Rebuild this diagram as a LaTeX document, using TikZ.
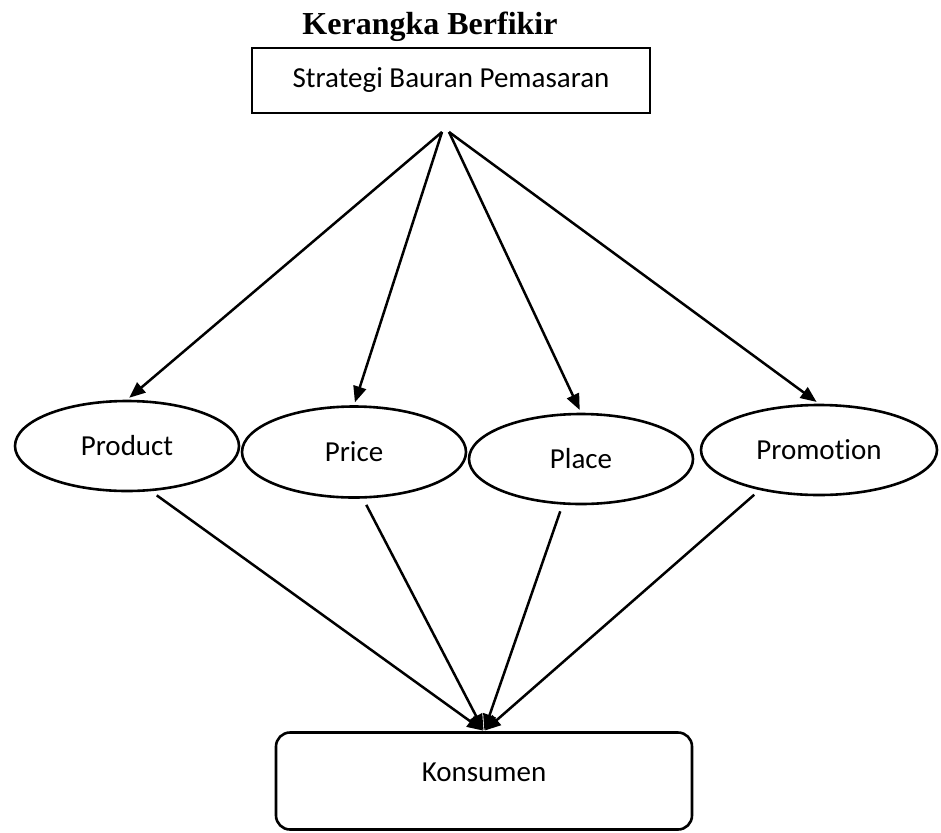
\documentclass[tikz,border=0pt]{standalone}
\usepackage{fontspec}
\setmainfont[Ligatures=NoCommon]{Carlito}
\newfontfamily\titlefont{Liberation Serif}
\usetikzlibrary{positioning, arrows.meta, shapes.geometric}

\begin{document}
\begin{tikzpicture}[
    x=1pt, y=-1pt,
    arrow/.style={-{Triangle[length=16pt, width=13pt]}, line width=2.5pt},
    oval/.style={ellipse, draw, line width=2.6pt, minimum width=224pt, minimum height=90pt, inner sep=0pt, font=\fontsize{29}{34}\selectfont},
    box/.style={draw, line width=2.6pt, font=\fontsize{29}{34}\selectfont}
]
    \useasboundingbox (0,0) rectangle (941,832);

    % Title
    \node[font=\titlefont\bfseries\fontsize{32}{38}\selectfont, anchor=base] (title) at (430,35) {Kerangka Berfikir};

    % Top box
    \node[box, minimum width=398pt, minimum height=65pt] (strat) at (451,80.5) {Strategi Bauran Pemasaran};

    % Marketing mix
    \node[oval] (product) at (127,446) {Product};
    \node[oval, minimum height=91pt] (price) at (354,452) {Price};
    \node[oval] (place) at (581,459) {Place};
    \node[oval, minimum width=236pt] (promo) at (819,450) {Promotion};

    % Consumer
    \node[box, rounded corners=14pt, minimum width=416pt, minimum height=97pt, text height=20pt, text depth=20pt] (kons) at (484,781) {Konsumen};

    % Arrows down from the strategy
    \coordinate (s1) at (442,132);
    \coordinate (s2) at (449,132);
    \draw[arrow, shorten >=3pt] (s1) -- (product.north);
    \draw[arrow, shorten >=3pt] (s1) -- (price.north);
    \draw[arrow, shorten >=3pt] (s2) -- (place.north);
    \draw[arrow, shorten >=3pt] (s2) -- (promo.north);

    % Arrows into the consumer
    \draw[arrow, shorten <=7pt, shorten >=1pt] (product.-62) -- (kons.north);
    \draw[arrow, shorten <=7pt, shorten >=1pt] (price.-79) -- (kons.north);
    \draw[arrow, shorten <=7pt, shorten >=1pt] (place.-112) -- (kons.north);
    \draw[arrow, shorten <=7pt, shorten >=1pt] (promo.-146) -- (kons.north);

\end{tikzpicture}
\end{document}
